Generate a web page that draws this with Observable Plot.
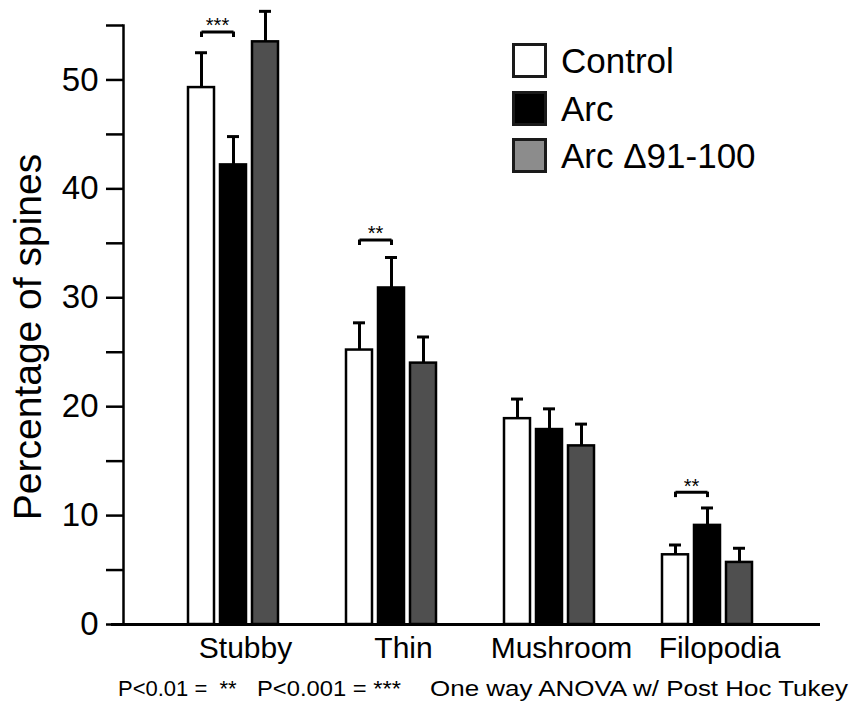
<!DOCTYPE html>
<html>
<head>
<meta charset="utf-8">
<script src="https://cdn.jsdelivr.net/npm/d3@7"></script>
<script src="https://cdn.jsdelivr.net/npm/@observablehq/plot@0.6"></script>
<style>
  body { margin: 0; background: #fff; font-family: "Liberation Sans", Arial, Helvetica, sans-serif; }
  #wrap { position: relative; width: 850px; height: 710px; overflow: hidden; background: #fff; }
  #legend { position: absolute; left: 512px; top: 43px; }
  .row { display: flex; align-items: center; height: 35px; margin-bottom: 12.5px; }
  .sw { width: 35px; height: 35px; box-sizing: border-box; border: 3px solid #1a1a1a; margin-right: 14px; flex: none; }
  .lab { font-size: 35px; line-height: 35px; color: #000; white-space: nowrap; }
  .note { position: absolute; top: 678px; font-size: 22px; line-height: 22px; white-space: pre; color: #000; transform-origin: left center; }
</style>
</head>
<body>
<div id="wrap">
  <div id="chart"></div>
  <div id="legend"></div>
  <div id="notes"></div>
</div>
<script>
// ---- data ----
const categories = ["Stubby", "Thin", "Mushroom", "Filopodia"];
const series = ["Control", "Arc", "Arc \u039491-100"];
const controlValues  = [49.3, 25.2, 18.9, 6.4];
const arcValues      = [42.2, 30.9, 17.9, 9.1];
const arcDeltaValues = [53.5, 24.0, 16.4, 5.7];
const controlErr  = [3.2, 2.5, 1.8, 0.9];
const arcErr      = [2.6, 2.8, 1.9, 1.6];
const arcDeltaErr = [2.8, 2.4, 2.0, 1.3];
const yTickValues = [0, 5, 10, 15, 20, 25, 30, 35, 40, 45, 50, 55];
const yTickLabels = ["0", "", "10", "", "20", "", "30", "", "40", "", "50", ""];
const sigCategories = ["Stubby", "Thin", "Filopodia"];
const sigLabels = ["***", "**", "**"];
const sigLevels = [54.4, 35.3, 12.15];
const yLabel = "Percentage of spines";
const noteParts = ["P<0.01 =  **", "P<0.001 = ***", "One way ANOVA w/ Post Hoc Tukey"];

// ---- styles ----
const barFills = ["#ffffff", "#000000", "#4f4f4f"];
const legendFills = ["#ffffff", "#000000", "#8c8c8c"];
const noteLefts = [118, 257, 430];
const noteScales = [1.0, 1.08, 1.18];

const valueSets = [controlValues, arcValues, arcDeltaValues];
const errSets = [controlErr, arcErr, arcDeltaErr];
const rows = categories.flatMap((c, i) => series.map((s, j) => ({
  category: c, series: s, value: valueSets[j][i], err: errSets[j][i]
})));
const sigRows = sigCategories.map((c, i) => ({category: c, level: sigLevels[i], label: sigLabels[i]}));
const legRows = sigRows.flatMap(r => [{...r, s: series[0]}, {...r, s: series[1]}]);
const legLen = 0.5;

const chart = Plot.plot({
  width: 850,
  height: 670,
  marginLeft: 122,
  marginRight: 94.8,
  marginTop: 25,
  marginBottom: 46,
  style: {fontFamily: "'Liberation Sans', Arial, Helvetica, sans-serif", background: "white", color: "black", overflow: "visible"},
  fx: {domain: categories, padding: 0, label: null},
  x: {domain: series, paddingInner: 0.185, paddingOuter: 1.028, align: 0.962, axis: null},
  y: {domain: [0, 55], axis: null},
  color: {domain: series, range: barFills},
  marks: [
    Plot.barY(rows, {fx: "category", x: "series", y: "value", fill: "series", stroke: "black", strokeWidth: 2.5}),
    Plot.ruleX(rows, {fx: "category", x: "series", y1: "value", y2: d => d.value + d.err, stroke: "black", strokeWidth: 3}),
    Plot.tickY(rows, {fx: "category", x: "series", y: d => d.value + d.err, insetLeft: 7, insetRight: 7, stroke: "black", strokeWidth: 3}),
    Plot.link(sigRows, {fx: "category", x1: () => series[0], x2: () => series[1], y1: "level", y2: "level", stroke: "black", strokeWidth: 3}),
    Plot.ruleX(legRows, {fx: "category", x: "s", y1: d => d.level - legLen, y2: "level", stroke: "black", strokeWidth: 3}),
    Plot.text(sigRows, {fx: "category", x: () => series[0], y: "level", text: "label", dx: 16, dy: -6, fontSize: 20}),
    Plot.ruleY([0], {insetLeft: -12, insetRight: -65, stroke: "black", strokeWidth: 3}),
    Plot.frame({anchor: "left", facetAnchor: "left", stroke: "black", strokeWidth: 2.5}),
    Plot.axisY({ticks: yTickValues, tickFormat: (d) => yTickLabels[yTickValues.indexOf(d)], tickSize: 17, tickPadding: 8, fontSize: 33, strokeWidth: 2.5, label: null}),
    Plot.text([categories[0]], {fx: d => d, text: () => yLabel, frameAnchor: "left", textAnchor: "middle", rotate: -90, dx: -95, dy: 12, fontSize: 39}),
    Plot.axisFx({anchor: "bottom", tickSize: 0, tickPadding: 12, fontSize: 30, dx: 43, label: null})
  ]
});
document.getElementById("chart").appendChild(chart);

// legend
const legend = document.getElementById("legend");
series.forEach((s, i) => {
  const row = document.createElement("div");
  row.className = "row";
  const sw = document.createElement("span");
  sw.className = "sw";
  sw.style.background = legendFills[i];
  const lab = document.createElement("span");
  lab.className = "lab";
  lab.textContent = s;
  row.appendChild(sw);
  row.appendChild(lab);
  legend.appendChild(row);
});

// note below the chart
const notes = document.getElementById("notes");
noteParts.forEach((t, i) => {
  const el = document.createElement("div");
  el.className = "note";
  el.style.left = noteLefts[i] + "px";
  el.style.transform = `scaleX(${noteScales[i]})`;
  el.textContent = t;
  notes.appendChild(el);
});
</script>
</body>
</html>
